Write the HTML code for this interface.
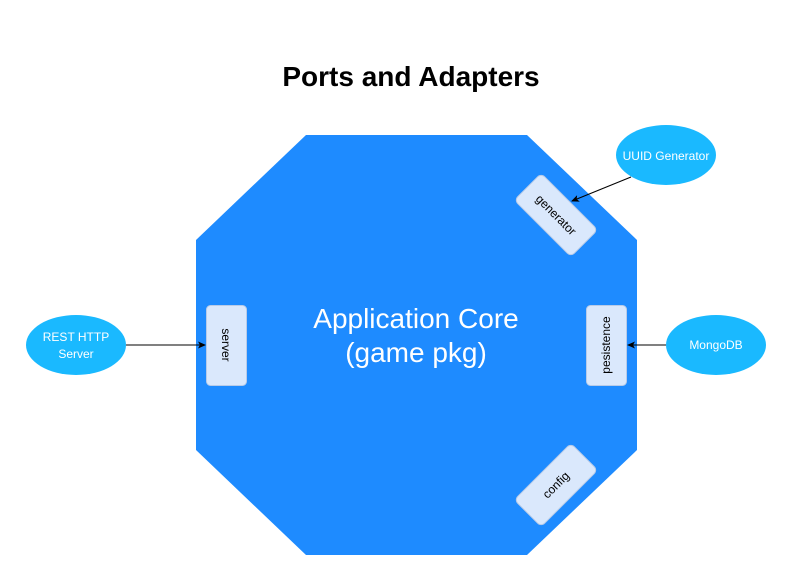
<!DOCTYPE html>
<html><head><style>
body{margin:0;background:#fff;}
svg{display:block;font-family:"Liberation Sans",Arial,sans-serif;}
</style></head><body>
<svg width="792" height="580" viewBox="0 0 792 580" xmlns="http://www.w3.org/2000/svg">
<defs><marker id="a" markerWidth="8" markerHeight="8" refX="7" refY="4" orient="auto" markerUnits="userSpaceOnUse"><path d="M0,0.5 L8,4 L0,7.5 L2,4 Z" fill="#000"/></marker></defs>
<text x="411" y="86" text-anchor="middle" font-size="28" font-weight="bold">Ports and Adapters</text>
<polygon points="306,135 527,135 637,240 637,450 527,555 306,555 196,450 196,240" fill="#1e8bff"/>
<text x="416" y="328" text-anchor="middle" font-size="28" fill="#fff">Application Core</text>
<text x="416" y="362" text-anchor="middle" font-size="28" fill="#fff">(game pkg)</text>
<rect x="206.5" y="305.5" width="40" height="80" rx="4" fill="#dae8fc" stroke="#b8cbe8"/>
<text transform="translate(226,345) rotate(90)" text-anchor="middle" dy="4" font-size="12">server</text>
<rect x="586.5" y="305.5" width="40" height="80" rx="4" fill="#dae8fc" stroke="#b8cbe8"/>
<text transform="translate(606,345) rotate(-90)" text-anchor="middle" dy="4" font-size="12">pesistence</text>
<g transform="translate(556,215) rotate(45)"><rect x="-40" y="-19" width="80" height="38" rx="5" fill="#dae8fc" stroke="#b8cbe8"/><text text-anchor="middle" dy="4" font-size="12">generator</text></g>
<g transform="translate(556,485) rotate(-45)"><rect x="-40" y="-19" width="80" height="38" rx="5" fill="#dae8fc" stroke="#b8cbe8"/><text text-anchor="middle" dy="4" font-size="12">config</text></g>
<ellipse cx="76" cy="345" rx="50" ry="30" fill="#1ab9ff"/>
<text x="76" y="341" text-anchor="middle" font-size="12" fill="#fff">REST HTTP</text>
<text x="76" y="358" text-anchor="middle" font-size="12" fill="#fff">Server</text>
<ellipse cx="716" cy="345" rx="50" ry="30" fill="#1ab9ff"/>
<text x="716" y="349" text-anchor="middle" font-size="12" fill="#fff">MongoDB</text>
<ellipse cx="666" cy="155" rx="50" ry="30" fill="#1ab9ff"/>
<text x="666" y="160" text-anchor="middle" font-size="12" fill="#fff">UUID Generator</text>
<line x1="126" y1="345" x2="205" y2="345" stroke="#000" marker-end="url(#a)"/>
<line x1="666" y1="345" x2="628" y2="345" stroke="#000" marker-end="url(#a)"/>
<line x1="631" y1="177" x2="572" y2="201" stroke="#000" marker-end="url(#a)"/>
</svg>
</body></html>
